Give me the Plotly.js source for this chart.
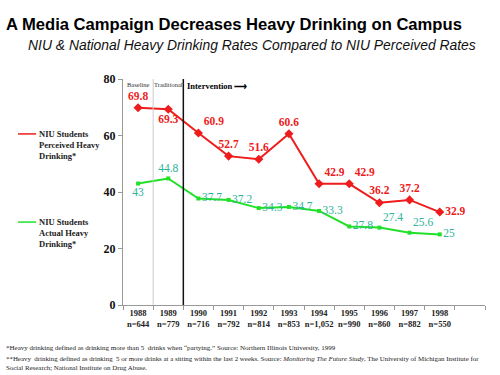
<!DOCTYPE html>
<html><head><meta charset="utf-8">
<script src="https://cdn.plot.ly/plotly-3.0.1.min.js"></script>
<style>body{margin:0;background:#fff}#c{width:500px;height:375px}</style>
</head><body><div id="c"></div>
<script>
const years = [1988,1989,1990,1991,1992,1993,1994,1995,1996,1997,1998];
const sampleSizes = ["n=644","n=779","n=716","n=792","n=814","n=853","n=1,052","n=990","n=860","n=882","n=550"];
const perceived = [69.8,69.3,60.9,52.7,51.6,60.6,42.9,42.9,36.2,37.2,32.9];
const actual = [43,44.8,37.7,37.2,34.3,34.7,33.3,27.8,27.4,25.6,25];
const perceivedPos = ["top center","bottom center","top right","top center","top center","top center","top right","top right","top center","top center","middle right"];
const actualPos = ["bottom center","top center","middle right","middle right","middle right","middle right","middle right","middle right","top right","top right","middle right"];
const yTicks = [0,20,40,60,80];

const red = "#ee1c1c", green = "#22e02a", teal = "#2bb39a";
const serif = "Liberation Serif, Times New Roman, serif";
const sans = "Liberation Sans, Arial, sans-serif";

const traces = [
 {x: years, y: perceived, mode: "lines+markers+text", text: perceived.map(String), textposition: perceivedPos,
  line:{color:red,width:2}, marker:{color:red,size:7,symbol:"diamond"},
  textfont:{family:serif,size:11.5,color:red,weight:"bold"}, cliponaxis:false, showlegend:false},
 {x: years, y: actual, mode: "lines+markers+text", text: actual.map(String), textposition: actualPos,
  line:{color:green,width:2}, marker:{color:green,size:4,symbol:"square"},
  textfont:{family:serif,size:11.5,color:teal}, cliponaxis:false, showlegend:false}
];

const layout = {
 width:500, height:375, margin:{l:123,r:15,t:79,b:70}, paper_bgcolor:"#fff", plot_bgcolor:"#fff",
 xaxis:{range:[1987.5,1999.5], tickvals:years, ticktext:years.map((y,i)=>y+"<br>"+sampleSizes[i]),
  ticks:"", showgrid:false, zeroline:false, showline:true, linecolor:"#999", linewidth:1,
  tickfont:{family:serif,size:8.5,color:"#222",weight:"bold"},
  minor:{tick0:1987.5,dtick:1,ticks:"outside",ticklen:4,tickcolor:"#999",showgrid:false}},
 yaxis:{range:[0,80], tickvals:yTicks, ticks:"outside", ticklen:4, tickcolor:"#999", showgrid:false, zeroline:false,
  showline:true, linecolor:"#999", tickfont:{family:serif,size:12,color:"#111",weight:"bold"}},
 shapes:[
  {type:"line",xref:"x",yref:"y",x0:1988.5,x1:1988.5,y0:0,y1:80,line:{color:"#ccc",width:1}},
  {type:"line",xref:"x",yref:"y",x0:1989.5,x1:1989.5,y0:0,y1:80,line:{color:"#111",width:1.5}},
  {type:"line",xref:"paper",yref:"paper",x0:-0.29,x1:-0.24,y0:0.757,y1:0.757,line:{color:red,width:1.5}},
  {type:"line",xref:"paper",yref:"paper",x0:-0.29,x1:-0.24,y0:0.367,y1:0.367,line:{color:green,width:1.5}}
 ],
 annotations:[
  {xref:"paper",yref:"paper",x:-0.33,y:1.19,xanchor:"left",yanchor:"bottom",showarrow:false,
   text:"<b>A Media Campaign Decreases Heavy Drinking on Campus</b>",font:{family:sans,size:16.6,color:"#000"}},
  {xref:"paper",yref:"paper",x:-0.268,y:1.105,xanchor:"left",yanchor:"bottom",showarrow:false,
   text:"<i>NIU & National Heavy Drinking Rates Compared to NIU Perceived Rates</i>",font:{family:sans,size:13.9,color:"#111"}},
  {xref:"x",yref:"y",x:1988,y:80,yanchor:"top",showarrow:false,text:"Baseline",font:{family:serif,size:6.5,color:"#333"}},
  {xref:"x",yref:"y",x:1989,y:80,yanchor:"top",showarrow:false,text:"Traditional",font:{family:serif,size:6.5,color:"#333"}},
  {xref:"x",yref:"y",x:1989.55,y:80,xanchor:"left",yanchor:"top",showarrow:false,text:"<b>Intervention ⟶</b>",font:{family:serif,size:8.5,color:"#000"}},
  {xref:"paper",yref:"paper",x:-0.237,y:0.757,xanchor:"left",yanchor:"top",yshift:7,showarrow:false,align:"left",
   text:"<b>NIU Students<br>Perceived Heavy<br>Drinking*</b>",font:{family:serif,size:8.5,color:"#222"}},
  {xref:"paper",yref:"paper",x:-0.237,y:0.367,xanchor:"left",yanchor:"top",yshift:7,showarrow:false,align:"left",
   text:"<b>NIU Students<br>Actual Heavy<br>Drinking*</b>",font:{family:serif,size:8.5,color:"#222"}},
  {xref:"paper",yref:"paper",x:-0.33,y:-0.165,xanchor:"left",yanchor:"top",showarrow:false,align:"left",
   text:"*Heavy drinking defined as drinking more than 5  drinks when “partying.” Source: Northern Illinois University, 1999",
   font:{family:serif,size:7,color:"#222"}},
  {xref:"paper",yref:"paper",x:-0.33,y:-0.213,xanchor:"left",yanchor:"top",showarrow:false,align:"left",
   text:"**Heavy  drinking defined as drinking  5 or more drinks at a sitting within the last 2 weeks. Source: <i>Monitoring The Future Study</i>, The University of Michigan Institute for<br>Social Research; National Institute on Drug Abuse.",
   font:{family:serif,size:6.9,color:"#222"}}
 ]
};
Plotly.newPlot("c", traces, layout, {displayModeBar:false, staticPlot:true});
</script></body></html>
